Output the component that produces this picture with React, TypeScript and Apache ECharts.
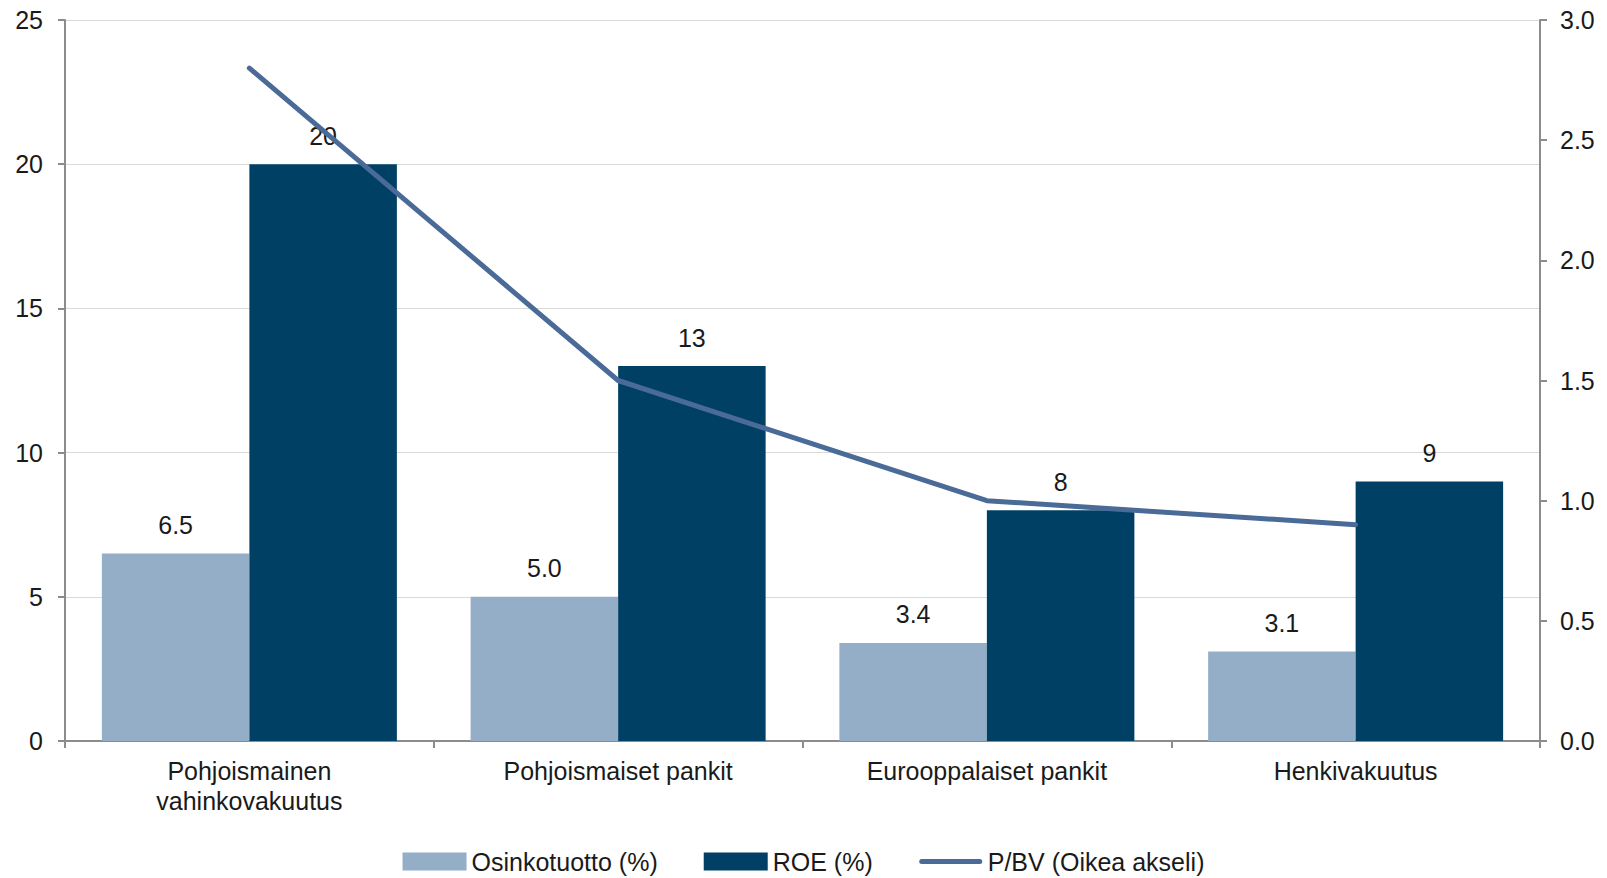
import React, { useEffect, useRef } from "react";
import * as echarts from "echarts";

const categories = ["Pohjoismainen\nvahinkovakuutus", "Pohjoismaiset pankit", "Eurooppalaiset pankit", "Henkivakuutus"];
const dividendYield = [6.5, 5.0, 3.4, 3.1];
const roe = [20, 13, 8, 9];
const pbv = [2.8, 1.5, 1.0, 0.9];
const seriesNames = ["Osinkotuotto (%)", "ROE (%)", "P/BV (Oikea akseli)"];

const FONT = "'Liberation Sans', Arial, sans-serif";
const TEXT = "#1a1a1a";
const AXIS = "#8c8c8c";
const FS = 25;

export default function App() {
  const ref = useRef<HTMLDivElement>(null);
  useEffect(() => {
    document.body.style.margin = "0";
    const chart = echarts.init(ref.current!, undefined, { renderer: "svg" });
    chart.setOption({
      animation: false,
      textStyle: { fontFamily: FONT, color: TEXT },
      grid: { left: 65, right: 67, top: 20, bottom: 137, containLabel: false },
      legend: {
        bottom: -1,
        left: "center",
        itemWidth: 64,
        itemHeight: 18,
        itemGap: 46,
        textStyle: { fontFamily: FONT, fontSize: FS, color: TEXT },
        data: [
          { name: seriesNames[0], icon: "rect" },
          { name: seriesNames[1], icon: "rect" },
          {
            name: seriesNames[2],
            icon: "path://M0,0 L0,0 M3,6.5 L61,6.5 A2.5,2.5 0 0 1 61,11.5 L3,11.5 A2.5,2.5 0 0 1 3,6.5 Z M64,18 L64,18",
          },
        ],
      },
      xAxis: {
        type: "category",
        data: categories,
        axisLine: { lineStyle: { color: AXIS, width: 2 } },
        axisTick: { show: true, length: 7, alignWithLabel: false, lineStyle: { color: AXIS, width: 2 } },
        axisLabel: { fontFamily: FONT, fontSize: FS, color: TEXT, margin: 15, lineHeight: 30, interval: 0 },
      },
      yAxis: [
        {
          type: "value",
          min: 0,
          max: 25,
          interval: 5,
          position: "left",
          axisLine: { show: true, lineStyle: { color: AXIS, width: 2 } },
          axisTick: { show: true, length: 7, lineStyle: { color: AXIS, width: 2 } },
          axisLabel: { fontFamily: FONT, fontSize: FS, color: TEXT, margin: 22 },
          splitLine: { show: true, lineStyle: { color: "#d9d9d9", width: 1 } },
        },
        {
          type: "value",
          min: 0,
          max: 3,
          interval: 0.5,
          position: "right",
          axisLine: { show: true, lineStyle: { color: AXIS, width: 2 } },
          axisTick: { show: true, length: 7, lineStyle: { color: AXIS, width: 2 } },
          axisLabel: { fontFamily: FONT, fontSize: FS, color: TEXT, margin: 20, formatter: (v: number) => v.toFixed(1) },
          splitLine: { show: false },
        },
      ],
      series: [
        {
          name: seriesNames[0],
          type: "bar",
          data: dividendYield,
          barGap: "0%",
          barCategoryGap: "20%",
          itemStyle: { color: "#94aec7" },
          label: {
            show: true,
            position: "top",
            distance: 16,
            fontFamily: FONT,
            fontSize: FS,
            color: TEXT,
            formatter: (p: any) => Number(p.value).toFixed(1),
          },
        },
        {
          name: seriesNames[1],
          type: "bar",
          data: roe,
          barGap: "0%",
          barCategoryGap: "20%",
          itemStyle: { color: "#004065" },
          label: {
            show: true,
            position: "top",
            distance: 16,
            fontFamily: FONT,
            fontSize: FS,
            color: TEXT,
            formatter: (p: any) => String(Math.round(p.value)),
          },
        },
        {
          name: seriesNames[2],
          type: "line",
          yAxisIndex: 1,
          data: pbv,
          symbol: "none",
          showSymbol: false,
          lineStyle: { color: "#4a6a98", width: 5, cap: "round" },
          itemStyle: { color: "#4a6a98" },
          z: 5,
        },
      ],
    });
    return () => chart.dispose();
  }, []);
  return <div ref={ref} style={{ position: "absolute", left: 0, top: 0, width: 1607, height: 878 }} />;
}
